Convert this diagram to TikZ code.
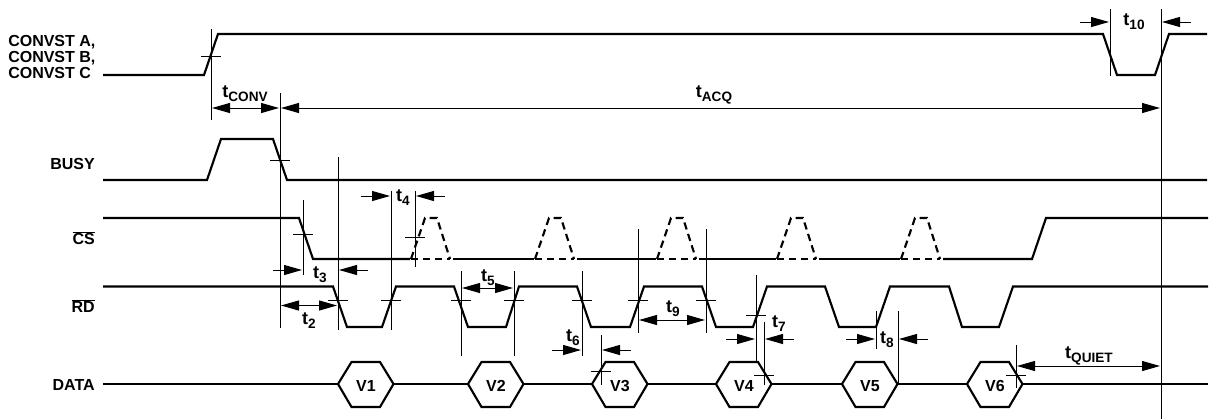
\documentclass[tikz,border=0pt]{standalone}
\usepackage{fontspec}
\setmainfont{Liberation Sans}
\usetikzlibrary{arrows.meta,calc}
\tikzset{
  sig/.style={line width=1.6pt,line join=miter},
  dsig/.style={sig,dash pattern=on 5.5pt off 3.5pt},
  tick/.style={line width=0.75pt},
  dim/.style={line width=0.75pt,shorten >=0.75pt,-{Triangle[length=13.5pt,width=7.5pt]}},
  ddim/.style={line width=0.75pt,shorten >=0.75pt,shorten <=0.75pt,{Triangle[length=13.5pt,width=7.5pt]}-{Triangle[length=13.5pt,width=7.5pt]}},
  lab/.style={font=\fontsize{12}{12}\bfseries\selectfont,inner sep=0pt,text depth=0pt},
  sgn/.style={lab,anchor=east}
}
\newcommand{\tm}[1]{{\fontsize{13.5}{14}\selectfont t}\raisebox{-0.2em}{\fontsize{10.2}{10}\selectfont #1}}
\begin{document}
\begin{tikzpicture}[x=0.75pt,y=-0.75pt]
    \useasboundingbox (0,0) rectangle (1211,419);
    % signal names
    \node[lab,anchor=west,align=left] (convst) at (8,57)
      {CONVST A,\\CONVST B,\\CONVST C};
    \node[sgn] (busy) at (95,164) {BUSY};
    \node[sgn] (cs) at (95,238) {$\overline{\mbox{CS}}$};
    \node[sgn] (rd) at (95,306) {$\overline{\mbox{RD}}$};
    \node[sgn] (data) at (95,385) {DATA};
    % waveforms
    \draw[sig] (103,75) -- (204,75) -- (218,34) -- (1103,34) -- (1117,75) -- (1155,75) -- (1169,34) -- (1207,34);
    \draw[sig] (103,180) -- (207,180) -- (221,139) -- (273,139) -- (287,180) -- (1207,180);
    \draw[sig] (103,218) -- (299,218) -- (313,259) -- (410,259);
    \foreach \a/\b in {453/534,577/656,699/776,819/900}
      \draw[sig] (\a,259) -- (\b,259);
    \draw[sig] (943,259) -- (1032,259) -- (1046,218) -- (1208,218);
    \foreach \x in {411,535,657,777,901} {
      \draw[dsig] (\x,259) -- ({\x+14},218) -- ({\x+26},218) -- ({\x+39},259);
      \draw[dsig] (\x,259) -- ({\x+39},259);
    }
    \draw[sig] (103,286.5) -- (333,286.5) -- (347,327) -- (382,327) -- (396,286.5)
      -- (454,286.5) -- (468,327) -- (506,327) -- (519,286.5)
      -- (577,286.5) -- (591,327) -- (630,327) -- (644,286.5)
      -- (702,286.5) -- (716,327) -- (753,327) -- (767,286.5)
      -- (825,286.5) -- (839,327) -- (876,327) -- (890,286.5)
      -- (949,286.5) -- (962,327) -- (999,327) -- (1013,286.5) -- (1208,286.5);
    % data words
    \foreach \n/\x in {1/338,2/468,3/592,4/716,5/842,6/967} {
      \coordinate (v\n l) at (\x,384);
      \coordinate (v\n r) at ({\x+55.5},384);
      \draw[sig] (v\n l) -- ({\x+13.5},362) -- ({\x+42},362) -- (v\n r) -- ({\x+42},407) -- ({\x+13.5},407) -- cycle;
      \node[lab] (v\n) at ({\x+28},385.5) {V\n};
    }
    \draw[sig] (103,384) -- (v1l) (v1r) -- (v2l) (v2r) -- (v3l) (v3r) -- (v4l) (v4r) -- (v5l) (v5r) -- (v6l) (v6r) -- (1208,384);
    % timing marks
    \foreach \n/\x/\a/\b in {conv/211/29/120,busy/280/93/328,csd/303/200/275,rda/338/157/330,
      rdb/391/191/330,csu/415/191/267,rdc/461/271/356,rdd/514/271/356,rde/582/271/356,
      dtc/601/335/385,rdf/638/229/333,rdg/706/229/333,rdh/756/275/362,dtd/764/322/385,
      rdi/876/311/349,dte/898/311/384,dtf/1016/345/388,cva/1110/9/76,acq/1161/9/419} {
      \coordinate (m\n) at (\x,\a);
      \draw[tick] (m\n) -- (\x,\b);
    }
    \foreach \x/\y in {211/56,280/160,303/234,415/237,338/300,391/300,461/300,514/300,582/300,
      638/300,706/300,756/315,601/371,764/375,1016/375}
      \draw[tick] ({\x-10},\y) -- ({\x+10},\y);
    % arrows between two marks
    \foreach \a/\b/\y in {conv/busy/108,busy/acq/108,busy/rda/305.5,rdc/rdd/288,rdf/rdg/320,dtf/acq/366}
      \draw[ddim] (m\a |- 0,\y) -- (m\b |- 0,\y);
    % arrows from outside
    \foreach \a/\b/\y in {csd/rda/270,rdb/csu/196,rde/dtc/350,rdh/dtd/339,rdi/dte/339,cva/acq/22} {
      \draw[tick] ($(m\a |- 0,\y)+(-30,0)$) edge[dim] (m\a |- 0,\y);
      \draw[tick] ($(m\b |- 0,\y)+(30,0)$) edge[dim] (m\b |- 0,\y);
    }
    % labels
    \node[lab] (tconv) at (245,92) {\tm{CONV}};
    \node[lab] (tacq) at (714,92) {\tm{ACQ}};
    \node[lab] (ttwo) at (309,319) {\tm{2}};
    \node[lab] (tthree) at (320,273) {\tm{3}};
    \node[lab] (tfour) at (403,196) {\tm{4}};
    \node[lab] (tfive) at (488,276) {\tm{5}};
    \node[lab] (tsix) at (573,336) {\tm{6}};
    \node[lab] (tseven) at (779,322) {\tm{7}};
    \node[lab] (teight) at (887,338) {\tm{8}};
    \node[lab] (tnine) at (673,307) {\tm{9}};
    \node[lab] (tten) at (1134,20) {\tm{10}};
    \node[lab] (tquiet) at (1089,353) {\tm{QUIET}};
\end{tikzpicture}
\end{document}
